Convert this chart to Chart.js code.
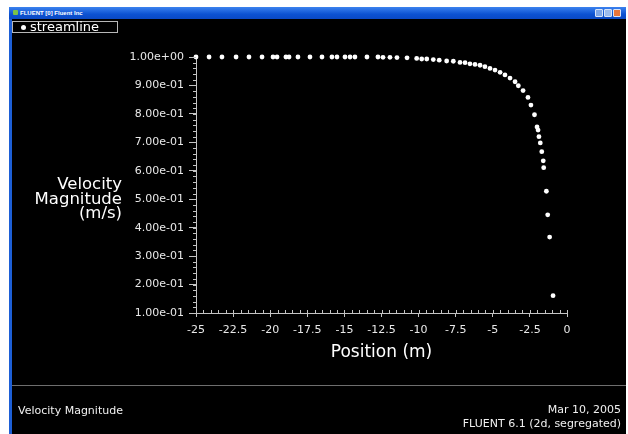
<!DOCTYPE html>
<html>
<head>
<meta charset="utf-8">
<title>Velocity Magnitude</title>
<script src="https://cdn.jsdelivr.net/npm/chart.js@4/dist/chart.umd.min.js"></script>
<style>
  html, body { margin: 0; padding: 0; background: #fff; width: 628px; height: 434px; overflow: hidden; }
  body { position: relative; font-family: "DejaVu Sans", sans-serif; color: #fff; }
  #win { position: absolute; left: 9px; top: 7px; width: 617px; height: 427px; background: #000; border-left: 3px solid #1d5fd6; box-sizing: border-box; }
  #titlebar { position: absolute; left: 9px; top: 7px; width: 617px; height: 12px; background: linear-gradient(#3b82ee, #0c52d2 60%, #0a49c4); }
  #titlebar .icon { position: absolute; left: 4px; top: 3px; width: 5px; height: 5px; background: #7bc34a; border-radius: 1px; }
  #titlebar .text { position: absolute; left: 11px; top: 2px; font: bold 6px "Liberation Sans", sans-serif; color: #fff; white-space: nowrap; line-height: 8px; }
  #titlebar .btn { position: absolute; top: 2px; width: 8px; height: 8px; border-radius: 1px; box-sizing: border-box; border: 1px solid #d8e4f8; }
  #chart { position: absolute; left: 0; top: 0; }
  #legend { position: absolute; left: 12px; top: 21px; width: 106px; height: 12px; border: 1px solid #b8b8b8; box-sizing: border-box; }
  #legend .dot { position: absolute; left: 8px; top: 3px; width: 5px; height: 5px; border-radius: 50%; background: #fff; }
  #legend .lbl { position: absolute; left: 17px; top: -3px; font-size: 13px; line-height: 16px; white-space: nowrap; }
  #ytitle { position: absolute; right: 506px; top: 177px; text-align: right; font-size: 16.5px; line-height: 14.5px; white-space: nowrap; }
  #sep { position: absolute; left: 12px; top: 385px; width: 614px; height: 1px; background: #6e6e6e; }
  .foot { position: absolute; font-size: 11px; line-height: 13px; white-space: nowrap; color: #f0f0f0; }
</style>
</head>
<body>
<div id="win"></div>
<div id="titlebar">
  <div class="icon"></div>
  <div class="text">FLUENT [0] Fluent Inc</div>
  <div class="btn" style="left:586px;background:#7ea6e6;"></div>
  <div class="btn" style="left:595px;background:#9cbcee;"></div>
  <div class="btn" style="left:604px;background:#e9763c;"></div>
</div>
<canvas id="chart" width="628" height="434"></canvas>
<div id="legend"><div class="dot"></div><div class="lbl" id="legendLabel"></div></div>
<div id="ytitle">Velocity<br>Magnitude<br>(m/s)</div>
<div id="sep"></div>
<div class="foot" style="left:18px;top:404px;">Velocity Magnitude</div>
<div class="foot" style="right:7px;top:403px;">Mar 10, 2005</div>
<div class="foot" style="right:7px;top:417px;">FLUENT 6.1 (2d, segregated)</div>

<script>
// Streamline samples: position along the line (m) and velocity magnitude (m/s)
const seriesName = "streamline";

const positions = [
  -25.00, -24.12, -23.25, -22.30, -21.43, -20.55, -19.81, -19.54, -18.94, -18.73,
  -18.13, -17.32, -16.51, -15.84, -15.50, -14.96, -14.62, -14.29, -13.48, -12.74,
  -12.40, -11.93, -11.46, -10.78, -10.13, -9.79, -9.45, -9.01, -8.61, -8.11,
  -7.66, -7.21, -6.87, -6.54, -6.20, -5.86, -5.53, -5.19, -4.85, -4.51,
  -4.18, -3.84, -3.50, -3.28, -2.96, -2.63, -2.43, -2.19, -2.02, -1.95,
  -1.89, -1.80, -1.70, -1.60, -1.57, -1.39, -1.30, -1.17, -0.94
];

const velocity = [
  1.000, 1.000, 1.000, 1.000, 1.000, 1.000, 1.000, 1.000, 1.000, 1.000,
  1.000, 1.000, 1.000, 1.000, 1.000, 1.000, 1.000, 1.000, 1.000, 1.000,
  0.999, 0.999, 0.998, 0.997, 0.995, 0.993, 0.993, 0.991, 0.989, 0.986,
  0.985, 0.981, 0.980, 0.976, 0.974, 0.971, 0.966, 0.960, 0.954, 0.946,
  0.937, 0.926, 0.913, 0.899, 0.882, 0.858, 0.831, 0.797, 0.754, 0.743,
  0.720, 0.698, 0.667, 0.635, 0.611, 0.528, 0.445, 0.367, 0.161
];

const xTickValues = [-25, -22.5, -20, -17.5, -15, -12.5, -10, -7.5, -5, -2.5, 0];
const yTickValues = [0.1, 0.2, 0.3, 0.4, 0.5, 0.6, 0.7, 0.8, 0.9, 1.0];

const xTitle = "Position (m)";

document.getElementById("legendLabel").textContent = seriesName;

// Format like 9.00e-01 / 1.00e+00
function sciLabel(v) {
  let e = Math.floor(Math.log10(v) + 1e-9);
  let m = v / Math.pow(10, e);
  if (m >= 9.995) { m /= 10; e += 1; }
  const sign = e < 0 ? "-" : "+";
  return m.toFixed(2) + "e" + sign + String(Math.abs(e)).padStart(2, "0");
}

const axisColor = "#c4c4c4";
const tickFont = { family: "DejaVu Sans", size: 11 };

// Small minor tick marks along both axes, placed through the scales
const minorTicks = {
  id: "minorTicks",
  afterDraw(chart) {
    const { ctx } = chart;
    const xs = chart.scales.x, ys = chart.scales.y;
    ctx.save();
    ctx.strokeStyle = axisColor;
    ctx.lineWidth = 1;
    ctx.beginPath();
    const xStep = 0.5;
    for (let k = 0; xs.min + k * xStep <= xs.max + 1e-9; k++) {
      const px = Math.round(xs.getPixelForValue(xs.min + k * xStep)) + 0.5;
      ctx.moveTo(px, ys.bottom);
      ctx.lineTo(px, ys.bottom - 3);
    }
    const yStep = 0.02;
    for (let k = 0; ys.min + k * yStep <= ys.max + 1e-9; k++) {
      const py = Math.round(ys.getPixelForValue(ys.min + k * yStep)) + 0.5;
      ctx.moveTo(xs.left, py);
      ctx.lineTo(xs.left - 3, py);
    }
    ctx.stroke();
    ctx.restore();
  }
};

new Chart(document.getElementById("chart"), {
  type: "scatter",
  data: {
    datasets: [{
      label: seriesName,
      data: positions.map((p, i) => ({ x: p, y: velocity[i] })),
      showLine: false,
      pointRadius: 2.4,
      pointBackgroundColor: "#ffffff",
      pointBorderWidth: 0,
      clip: false
    }]
  },
  options: {
    responsive: false,
    animation: false,
    events: [],
    layout: { padding: { left: 0, top: 57, right: 61, bottom: 0 } },
    plugins: {
      legend: { display: false },
      tooltip: { enabled: false }
    },
    scales: {
      x: {
        type: "linear",
        min: -25,
        max: 0,
        afterBuildTicks: s => { s.ticks = xTickValues.map(v => ({ value: v })); },
        afterFit: s => { s.height = 121; },
        border: { display: true, color: axisColor, width: 1 },
        grid: { drawOnChartArea: false, drawTicks: true, tickLength: 4, color: axisColor },
        ticks: {
          color: "#e8e8e8",
          font: tickFont,
          padding: 7,
          maxRotation: 0,
          autoSkip: false,
          callback: v => String(v)
        },
        title: {
          display: true,
          text: xTitle,
          color: "#ffffff",
          font: { family: "DejaVu Sans", size: 17 },
          padding: { top: 0, bottom: 71 }
        }
      },
      y: {
        type: "linear",
        min: 0.1,
        max: 1.0,
        afterBuildTicks: s => { s.ticks = yTickValues.map(v => ({ value: v })); },
        afterFit: s => { s.width = 196; },
        border: { display: true, color: axisColor, width: 1 },
        grid: { drawOnChartArea: false, drawTicks: true, tickLength: 7, color: axisColor },
        ticks: {
          color: "#e8e8e8",
          font: tickFont,
          padding: 5,
          autoSkip: false,
          callback: v => sciLabel(v)
        }
      }
    }
  },
  plugins: [minorTicks]
});
</script>
</body>
</html>
